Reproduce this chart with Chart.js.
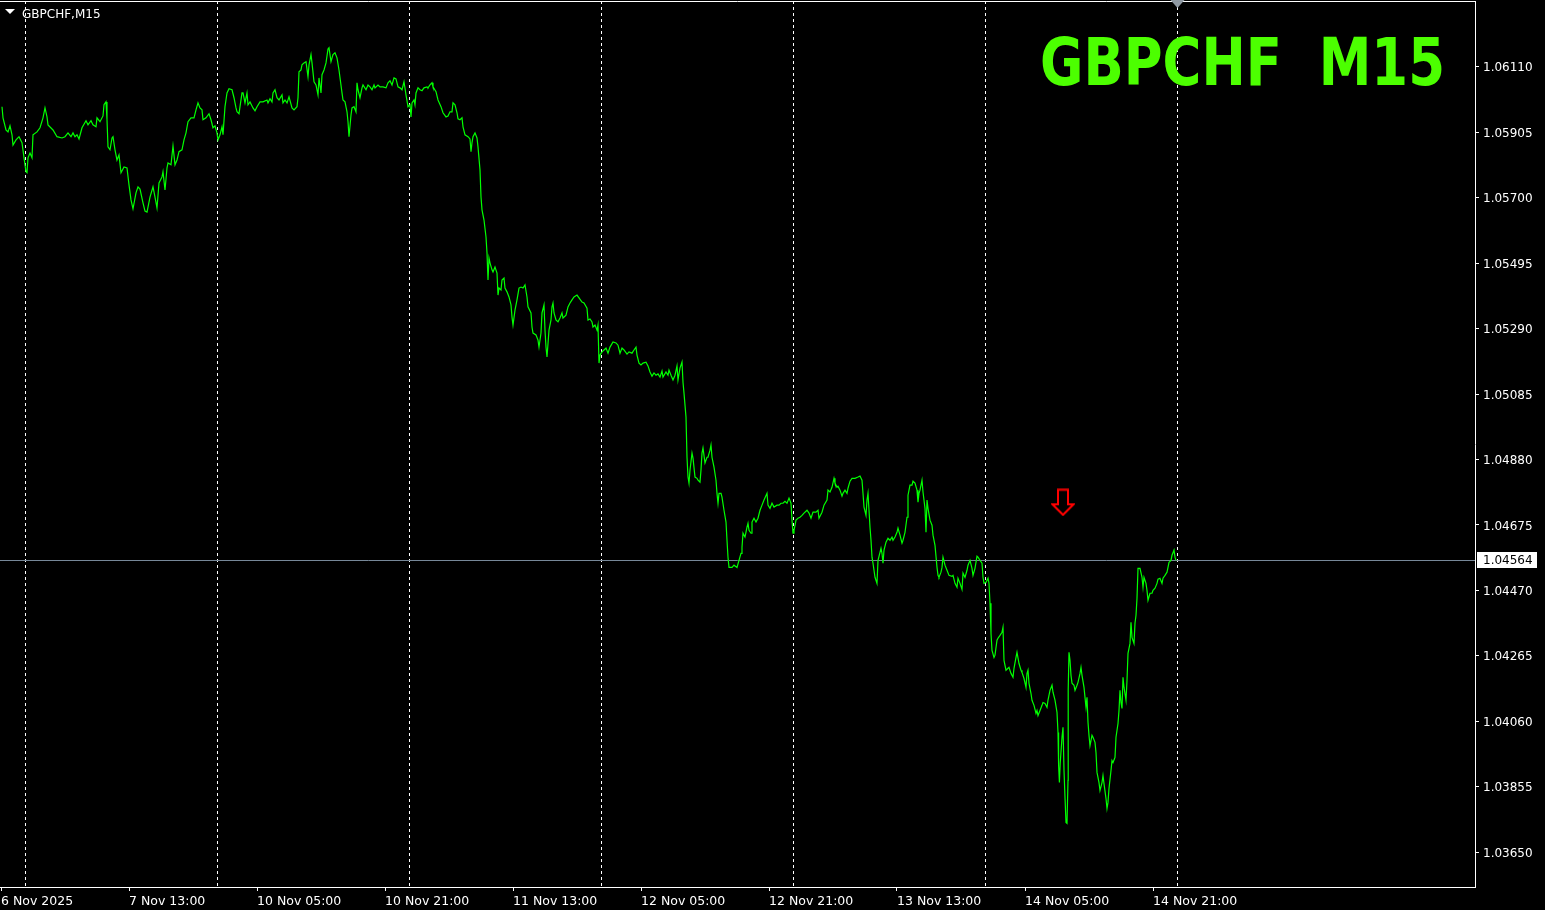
<!DOCTYPE html>
<html>
<head>
<meta charset="utf-8">
<title>GBPCHF M15</title>
<script src="https://cdn.jsdelivr.net/npm/chart.js@4.4.1/dist/chart.umd.min.js"></script>
<style>
  html, body { margin: 0; padding: 0; background: #000; overflow: hidden; }
  canvas { display: block; }
</style>
</head>
<body>
<canvas id="chart" width="1545" height="910"></canvas>
<script>
// M15 bars counted from 6 Nov 21:00 (bar 0), weekend removed
const barIndex = [
  0.5, 1, 2.5, 3.5, 4.5, 5.5, 6, 7.5, 9, 10.5, 11.5, 12.5, 13, 13.5, 14.5, 15.5, 16, 18, 19.5, 21,
  22, 23, 23.5, 26, 28, 30.5, 32, 33.5, 35, 36, 37, 38, 39, 40.5, 42.5, 43.5, 45, 46, 47.5, 48,
  49.5, 51, 51.5, 52.5, 53, 53.5, 54.5, 55.5, 56, 57, 58, 59, 60, 61.5, 63, 64, 65, 66, 67.5, 68.5,
  69.5, 71, 72, 73, 74.5, 76, 77, 78, 79, 80.5, 81, 82, 83, 83.5, 85, 86, 87, 88, 89, 90.5,
  91.5, 92.5, 93.5, 95, 96.5, 97.5, 98.5, 99.5, 100.5, 101, 102.5, 104, 105, 106, 107, 108, 108.5, 109.5, 110.5, 111,
  112, 113, 114, 115.5, 116.5, 117.5, 118, 119, 120.5, 121, 122, 123, 123.5, 124.5, 126, 127, 128, 129.5, 131, 133,
  133.5, 134.5, 135.5, 136, 137, 138, 139, 140.5, 141, 142, 143, 144, 145.5, 146.5, 148, 148.5,
  149, 150, 150.5, 151.5, 152.5, 153.5, 154, 155, 155.5, 156.5, 157.5, 158.5, 159, 160, 160.5, 161.5, 162.5, 163.5, 164, 165,
  166, 167, 168, 169, 170.5, 171, 172, 173, 173.5, 174, 175, 175.5, 176.5, 177.5, 178, 178.5, 179.5, 180.5, 181, 182.5,
  183.5, 184.5, 185.5, 186.5, 187, 188.5, 189.5, 191, 192.5, 193.5, 194.5, 195.5, 196.5, 197.5, 198.5, 199.5, 200.5, 201.5, 202.5, 203.5,
  204.5, 205, 205.5, 206.5, 207, 207.5, 208.5, 209.5, 210.5, 211.5, 213, 213.5, 214.5, 215.5, 216, 217.5, 218.5, 220, 221, 222.5,
  223.5, 224.5, 225.5, 226, 227, 228, 228.5, 229.5, 230.5, 231, 232, 233.5, 234.5, 235, 235.5, 236, 237, 238, 238.5, 239.5,
  240, 240.5, 241.5, 242.5, 243, 243.5, 244, 244.5, 245.5, 246, 247, 248, 248.5, 249, 250, 250.5, 251.5, 252, 253, 254,
  255, 255.5, 256, 257, 258, 259, 260, 261, 262, 263, 263.5, 265, 265.5, 266, 267.5, 268.5, 269, 270, 270.5, 271.5,
  272, 272.5, 273, 274, 275, 275.5, 276, 276.5, 277.5, 278.5, 279.5, 280.5, 281, 282.5, 283.5, 284.5, 285.5, 286.5, 288, 289,
  290.5, 291.5, 293, 293.5, 294.5, 295.5, 296, 297, 298, 298.5,
  299, 299.5, 300.5, 301.5, 302.5, 303.5, 304.5, 306, 307.5, 308.5, 309.5, 310.5, 311.5, 313, 314, 315.5, 316.5, 317.5, 318, 319,
  320, 321, 322.5, 323.5, 324.5, 325.5, 326.5, 327.5, 328.5, 329.5, 330.5, 331, 332.5, 333.5, 334, 335, 336, 337, 338, 338.5,
  339.5, 340.5, 341, 341.5, 342.5, 343, 343.5, 344, 344.5, 345.5, 346, 347, 348, 348.5, 349.5, 350, 350.5, 351, 352, 353,
  353.5, 354.5, 355, 355.5, 356.5, 357.5, 358, 358.5, 359, 360, 360.5, 361.5, 362.5, 363, 363.5, 364, 365.5, 366.5, 368, 369,
  370, 370.5, 371, 372, 373, 373.5, 374, 375, 375.5, 376.5, 377.5, 378.5, 379.5, 380.5, 381.5, 383, 383.5, 384.5, 385.5, 386.5,
  388, 389, 390, 391, 392, 393, 394, 395, 395.5, 396, 396.5, 397.5, 398.5, 399.5, 400.5, 401.5, 403, 404, 405, 406,
  407.5, 408.5, 409, 410.5, 411.5, 413, 413.5, 414.5, 415.5, 416.5, 417, 418, 418.5, 419.5, 420.5, 421, 422, 423, 423.5, 424.5,
  425.5, 427, 428.5, 429.5, 430.5, 431, 431.5, 432.5, 433, 433.5, 434, 434.5, 435, 435.5, 436, 436.5, 437, 438, 438.5, 439.5,
  440, 440.5, 441, 441.5, 442.5, 443.5, 444.5, 445.5, 446, 447, 448, 448.5,
  449.5, 450.5, 451, 452, 453, 453.5, 454.5, 455.5, 456, 457, 458, 458.5, 459, 459.5, 460.5, 461, 462, 462.5, 463, 463.5,
  464.5, 465.5, 466, 467, 468, 468.5, 469, 470, 470.5, 471, 472, 473, 474, 475.5, 476, 477, 478, 478.5, 479.5, 480.5,
  481, 482, 483, 483.5, 484.5, 485.5, 486, 487, 488, 488.5, 489.5, 490.5, 491, 491.5, 492.5, 493.5, 494, 494.5, 495, 495.5,
  496.5, 497, 498, 498.5, 499.5, 500.5, 501, 501.5, 502.5, 503.5, 504, 505, 506, 506.5, 507.5, 508, 509, 510, 510.5, 511.5,
  512.5, 513, 513.5, 514, 515, 515.5, 516.5, 517.5, 518, 518.5, 519.5, 520.5, 521, 522, 523, 523.5, 524.5, 525.5, 526, 527,
  528, 528.5, 528.8, 529.2, 529.6, 530.5, 531, 531.5, 532, 532.5, 533, 533.5, 533.6, 534, 534.5, 535, 535.5, 536.5, 537, 538,
  538.5, 539.5, 540, 540.5, 541.5, 542, 542.5, 543, 543.5, 544, 544.5, 545.5, 546, 547, 547.5, 548, 549, 549.5, 550.5, 551,
  551.5, 552.5, 553, 553.5, 554, 555, 555.5, 556, 557, 557.5, 558.5, 559, 559.5, 560, 560.5, 561, 561.5, 562.5, 563, 563.5,
  564.5, 565, 565.5, 566.5, 567, 567.5, 568, 568.5, 569.5, 570.5, 571, 571.5, 572.5, 573, 573.5, 574.5, 575.5, 576, 577, 578,
  578.5, 579.5, 580.5, 581, 582, 583, 583.5, 584, 585, 585.5, 586.5, 587, 587.5
];

const closePrice = [
  1.05985, 1.05950, 1.05912, 1.05906, 1.05925, 1.05897, 1.05865, 1.05881, 1.05891, 1.05872, 1.05825, 1.05781, 1.05778, 1.05825, 1.05840, 1.05825, 1.05897, 1.05906, 1.05919, 1.05950,
  1.05981, 1.05953, 1.05928, 1.05912, 1.05891, 1.05887, 1.05891, 1.05903, 1.05891, 1.05903, 1.05891, 1.05897, 1.05884, 1.05919, 1.05941, 1.05928, 1.05941, 1.05928, 1.05922, 1.05950,
  1.05938, 1.05956, 1.05991, 1.06000, 1.05944, 1.05859, 1.05850, 1.05887, 1.05891, 1.05850, 1.05818, 1.05834, 1.05778, 1.05796, 1.05793, 1.05740, 1.05693, 1.05665, 1.05715, 1.05734,
  1.05727, 1.05684, 1.05658, 1.05655, 1.05702, 1.05734, 1.05702, 1.05668, 1.05746, 1.05765, 1.05781, 1.05724, 1.05793, 1.05809, 1.05803, 1.05862, 1.05803, 1.05818, 1.05844, 1.05850,
  1.05881, 1.05903, 1.05938, 1.05950, 1.05950, 1.05975, 1.05997, 1.05981, 1.05975, 1.05944, 1.05950, 1.05963, 1.05944, 1.05919, 1.05925, 1.05903, 1.05881, 1.05897, 1.05922, 1.05897,
  1.05985, 1.06028, 1.06041, 1.06038, 1.06013, 1.05981, 1.05969, 1.05963, 1.06028, 1.06028, 1.05997, 1.06028, 1.05991, 1.06000, 1.05981, 1.05972, 1.05985, 1.06000, 1.06000, 1.06006,
  1.05997, 1.06010, 1.06000, 1.06028, 1.06038, 1.06013, 1.06006, 1.06022, 1.05997, 1.06006, 1.05997, 1.06016, 1.05981, 1.05975, 1.05985, 1.06013,
  1.06094, 1.06100, 1.06116, 1.06122, 1.06126, 1.06079, 1.06116, 1.06148, 1.06122, 1.06063, 1.06053, 1.06022, 1.06075, 1.06028, 1.06085, 1.06100, 1.06122, 1.06166, 1.06170, 1.06126,
  1.06148, 1.06154, 1.06138, 1.06100, 1.06028, 1.06006, 1.06000, 1.05969, 1.05938, 1.05891, 1.05959, 1.05981, 1.05985, 1.05969, 1.06060, 1.06038, 1.06013, 1.06044, 1.06053, 1.06038,
  1.06053, 1.06047, 1.06038, 1.06053, 1.06044, 1.06053, 1.06047, 1.06047, 1.06044, 1.06060, 1.06066, 1.06053, 1.06075, 1.06072, 1.06047, 1.06044, 1.06038, 1.06063, 1.06022, 1.05985,
  1.05991, 1.05953, 1.05997, 1.06006, 1.05991, 1.06028, 1.06044, 1.06038, 1.06035, 1.06044, 1.06047, 1.06044, 1.06053, 1.06060, 1.06047, 1.06032, 1.06006, 1.05985, 1.05966, 1.05953,
  1.05956, 1.05969, 1.05969, 1.05997, 1.05991, 1.05966, 1.05947, 1.05944, 1.05950, 1.05922, 1.05897, 1.05891, 1.05884, 1.05844, 1.05872, 1.05891, 1.05903, 1.05887, 1.05859, 1.05787,
  1.05702, 1.05662, 1.05630, 1.05577, 1.05527, 1.05442, 1.05511, 1.05496, 1.05474, 1.05467, 1.05483, 1.05464, 1.05395, 1.05417, 1.05411, 1.05442, 1.05448, 1.05417, 1.05405, 1.05389,
  1.05364, 1.05326, 1.05301, 1.05348, 1.05380, 1.05417, 1.05420, 1.05417, 1.05427, 1.05389, 1.05358, 1.05339, 1.05295, 1.05276, 1.05270, 1.05254, 1.05232, 1.05276, 1.05339, 1.05364,
  1.05285, 1.05232, 1.05201, 1.05285, 1.05317, 1.05358, 1.05370, 1.05339, 1.05317, 1.05311, 1.05323, 1.05339, 1.05323, 1.05332, 1.05358, 1.05370, 1.05380, 1.05389, 1.05395, 1.05386,
  1.05373, 1.05370, 1.05354, 1.05317, 1.05320, 1.05311, 1.05295, 1.05301, 1.05285, 1.05301,
  1.05182, 1.05207, 1.05217, 1.05223, 1.05229, 1.05213, 1.05232, 1.05248, 1.05245, 1.05238, 1.05213, 1.05229, 1.05223, 1.05210, 1.05217, 1.05213, 1.05223, 1.05232, 1.05207, 1.05182,
  1.05176, 1.05182, 1.05185, 1.05173, 1.05154, 1.05141, 1.05151, 1.05144, 1.05148, 1.05138, 1.05157, 1.05138, 1.05154, 1.05144, 1.05160, 1.05144, 1.05129, 1.05144, 1.05173, 1.05129,
  1.05166, 1.05185, 1.05122, 1.05088, 1.05013, 1.04887, 1.04825, 1.04806, 1.04847, 1.04900, 1.04884, 1.04825, 1.04821, 1.04815, 1.04809, 1.04847, 1.04900, 1.04916, 1.04869, 1.04887,
  1.04887, 1.04909, 1.04925, 1.04887, 1.04856, 1.04815, 1.04774, 1.04743, 1.04774, 1.04774, 1.04762, 1.04721, 1.04684, 1.04627, 1.04574, 1.04542, 1.04542, 1.04549, 1.04542, 1.04564,
  1.04586, 1.04605, 1.04649, 1.04637, 1.04668, 1.04680, 1.04658, 1.04649, 1.04684, 1.04696, 1.04684, 1.04696, 1.04721, 1.04737, 1.04753, 1.04774, 1.04737, 1.04727, 1.04743, 1.04731,
  1.04737, 1.04737, 1.04743, 1.04743, 1.04749, 1.04743, 1.04759, 1.04743, 1.04690, 1.04649, 1.04658, 1.04690, 1.04696, 1.04699, 1.04705, 1.04712, 1.04721, 1.04712, 1.04696, 1.04715,
  1.04715, 1.04721, 1.04696, 1.04715, 1.04737, 1.04753, 1.04784, 1.04778, 1.04793, 1.04821, 1.04806, 1.04793, 1.04796, 1.04784, 1.04765, 1.04774, 1.04784, 1.04774, 1.04790, 1.04812,
  1.04821, 1.04821, 1.04825, 1.04828, 1.04815, 1.04774, 1.04731, 1.04705, 1.04753, 1.04774, 1.04721, 1.04668, 1.04627, 1.04574, 1.04555, 1.04533, 1.04511, 1.04492, 1.04564, 1.04589,
  1.04602, 1.04586, 1.04555, 1.04596, 1.04621, 1.04633, 1.04627, 1.04637, 1.04627, 1.04637, 1.04652, 1.04665,
  1.04643, 1.04618, 1.04627, 1.04652, 1.04699, 1.04768, 1.04800, 1.04800, 1.04812, 1.04806, 1.04784, 1.04746, 1.04774, 1.04784, 1.04815, 1.04778, 1.04727, 1.04652, 1.04753, 1.04727,
  1.04690, 1.04674, 1.04643, 1.04611, 1.04542, 1.04517, 1.04511, 1.04527, 1.04542, 1.04574, 1.04549, 1.04533, 1.04517, 1.04514, 1.04517, 1.04492, 1.04480, 1.04508, 1.04492, 1.04473,
  1.04524, 1.04511, 1.04533, 1.04549, 1.04564, 1.04539, 1.04517, 1.04539, 1.04577, 1.04574, 1.04564, 1.04555, 1.04511, 1.04492, 1.04495, 1.04508, 1.04492, 1.04430, 1.04336, 1.04282,
  1.04260, 1.04267, 1.04314, 1.04320, 1.04329, 1.04339, 1.04354, 1.04251, 1.04220, 1.04226, 1.04229, 1.04210, 1.04198, 1.04226, 1.04260, 1.04276, 1.04241, 1.04220, 1.04213, 1.04194,
  1.04166, 1.04210, 1.04220, 1.04179, 1.04147, 1.04126, 1.04110, 1.04085, 1.04094, 1.04078, 1.04094, 1.04110, 1.04119, 1.04116, 1.04104, 1.04126, 1.04157, 1.04173, 1.04151, 1.04126,
  1.04088, 1.04025, 1.03922, 1.03868, 1.03928, 1.04010, 1.04041, 1.03906, 1.03821, 1.03743, 1.03740, 1.03875, 1.04157, 1.04276, 1.04251, 1.04204, 1.04179, 1.04173, 1.04157, 1.04173,
  1.04182, 1.04210, 1.04229, 1.04204, 1.04166, 1.04135, 1.04104, 1.04135, 1.04057, 1.04016, 1.03984, 1.04016, 1.04010, 1.03994, 1.03962, 1.03900, 1.03868, 1.03843, 1.03868, 1.03890,
  1.03865, 1.03818, 1.03787, 1.03806, 1.03850, 1.03906, 1.03937, 1.03931, 1.03947, 1.04010, 1.04053, 1.04094, 1.04157, 1.04119, 1.04100, 1.04198, 1.04166, 1.04126, 1.04188, 1.04273,
  1.04304, 1.04370, 1.04323, 1.04304, 1.04367, 1.04392, 1.04445, 1.04539, 1.04539, 1.04511, 1.04480, 1.04511, 1.04492, 1.04470, 1.04439, 1.04461, 1.04461, 1.04470, 1.04477, 1.04492,
  1.04505, 1.04508, 1.04492, 1.04508, 1.04517, 1.04527, 1.04542, 1.04558, 1.04564, 1.04580, 1.04596, 1.04574, 1.04564
];

const priceTicks = [1.03650, 1.03855, 1.04060, 1.04265, 1.04470, 1.04675, 1.04880, 1.05085, 1.05290, 1.05495, 1.05700, 1.05905, 1.06110];
const labelBars = [0, 64, 128, 192, 256, 320, 384, 448, 512, 576];
const xTickLabels = ['6 Nov 2025', '7 Nov 13:00', '10 Nov 05:00', '10 Nov 21:00', '11 Nov 13:00',
                     '12 Nov 05:00', '12 Nov 21:00', '13 Nov 13:00', '14 Nov 05:00', '14 Nov 21:00'];
const daySeparators = [12, 108, 204, 300, 396, 492, 588];
const shiftBar = 588;
const lastPrice = 1.04564;
const arrowBar = [531];
const arrowPrice = [1.04746];

const symbolTitle = 'GBPCHF  M15';
const windowTitle = 'GBPCHF,M15';

const FONT = 'DejaVu Sans';

// hollow down arrow for the signal marker
function makeArrow() {
  const c = document.createElement('canvas');
  c.width = 24; c.height = 28;
  const g = c.getContext('2d');
  g.strokeStyle = '#ff0000';
  g.lineWidth = 2;
  g.lineJoin = 'miter';
  g.beginPath();
  g.moveTo(7, 1.5);
  g.lineTo(17, 1.5);
  g.lineTo(17, 16);
  g.lineTo(22.5, 16);
  g.lineTo(12, 26.5);
  g.lineTo(1.5, 16);
  g.lineTo(7, 16);
  g.closePath();
  g.stroke();
  return c;
}

// keep the plot flush with the window edges like the terminal does
function noPad(s) {
  s.paddingLeft = 0; s.paddingRight = 0; s.paddingTop = 0; s.paddingBottom = 0;
}

const overlay = {
  id: 'overlay',
  beforeDatasetsDraw(chart) {
    const { ctx, chartArea: a, scales: { x, y } } = chart;
    ctx.save();
    // day separators
    ctx.strokeStyle = '#ffffff';
    ctx.lineWidth = 1;
    ctx.setLineDash([3, 3]);
    daySeparators.forEach(b => {
      const px = Math.round(x.getPixelForValue(b)) + 0.5;
      ctx.beginPath();
      ctx.moveTo(px, a.top);
      ctx.lineTo(px, a.bottom);
      ctx.stroke();
    });
    ctx.setLineDash([]);
    // bid line
    const py = Math.round(y.getPixelForValue(lastPrice)) + 0.5;
    ctx.strokeStyle = '#778899';
    ctx.beginPath();
    ctx.moveTo(a.left, py);
    ctx.lineTo(a.right, py);
    ctx.stroke();
    ctx.restore();
  },
  afterDraw(chart) {
    const { ctx, chartArea: a, scales: { x, y } } = chart;
    ctx.save();
    // top frame line
    ctx.strokeStyle = '#ffffff';
    ctx.lineWidth = 1;
    ctx.beginPath();
    ctx.moveTo(a.left, a.top + 0.5);
    ctx.lineTo(a.right, a.top + 0.5);
    ctx.stroke();

    // shift marker
    const sx = Math.round(x.getPixelForValue(shiftBar)) + 0.5;
    ctx.fillStyle = '#8f99a3';
    ctx.beginPath();
    ctx.moveTo(sx - 7, 0);
    ctx.lineTo(sx + 7, 0);
    ctx.lineTo(sx, 8);
    ctx.closePath();
    ctx.fill();

    // window caption
    ctx.fillStyle = '#ffffff';
    ctx.beginPath();
    ctx.moveTo(5, 9);
    ctx.lineTo(15, 9);
    ctx.lineTo(10, 14);
    ctx.closePath();
    ctx.fill();
    ctx.font = '12px "' + FONT + '"';
    ctx.textAlign = 'left';
    ctx.textBaseline = 'alphabetic';
    ctx.fillText(windowTitle, 22, 18);

    // big symbol title, squeezed to the width seen in the terminal
    ctx.font = 'bold 66px "' + FONT + '"';
    const w = ctx.measureText(symbolTitle).width;
    const sc = 405 / w;
    ctx.translate(1445, 85);
    ctx.scale(sc, 1);
    ctx.fillStyle = '#4cff00';
    ctx.textAlign = 'right';
    ctx.fillText(symbolTitle, 0, 0);
    ctx.setTransform(1, 0, 0, 1, 0, 0);

    // last price box on the axis
    const py = Math.round(y.getPixelForValue(lastPrice));
    ctx.fillStyle = '#ffffff';
    ctx.fillRect(a.right + 2, py - 8, 60, 16);
    ctx.fillStyle = '#000000';
    ctx.font = '12px "' + FONT + '"';
    ctx.textAlign = 'left';
    ctx.textBaseline = 'middle';
    ctx.fillText(lastPrice.toFixed(5), a.right + 8, py + 1);
    ctx.restore();
  }
};

const ctx = document.getElementById('chart').getContext('2d');
const chart = new Chart(ctx, {
  data: {
    datasets: [{
      type: 'line',
      data: barIndex.map((b, i) => ({ x: b, y: closePrice[i] })),
      borderColor: '#00ff00',
      borderWidth: 1.2,
      pointRadius: 0,
      tension: 0,
      fill: false
    }, {
      type: 'scatter',
      data: arrowBar.map((b, i) => ({ x: b, y: arrowPrice[i] })),
      pointStyle: makeArrow(),
      pointRadius: 12
    }]
  },
  options: {
    responsive: false,
    animation: false,
    devicePixelRatio: 1,
    layout: { autoPadding: false, padding: { top: 1, left: 0, right: 0, bottom: 0 } },
    plugins: { legend: { display: false }, tooltip: { enabled: false } },
    scales: {
      x: {
        type: 'linear',
        position: 'bottom',
        min: -0.5,
        max: 737,
        afterBuildTicks: s => { s.ticks = labelBars.map(v => ({ value: v })); },
        afterFit: s => { s.height = 23; noPad(s); },
        ticks: {
          color: '#ffffff',
          font: { family: FONT, size: 12.5 },
          align: 'start',
          maxRotation: 0,
          autoSkip: false,
          padding: 3,
          callback: v => xTickLabels[labelBars.indexOf(v)]
        },
        grid: { drawOnChartArea: false, color: '#ffffff', tickLength: 4 },
        border: { color: '#ffffff' }
      },
      y: {
        type: 'linear',
        position: 'right',
        min: 1.03541,
        max: 1.06316,
        afterBuildTicks: s => { s.ticks = priceTicks.map(v => ({ value: v })); },
        afterFit: s => { s.width = 70; noPad(s); },
        ticks: {
          color: '#ffffff',
          font: { family: FONT, size: 12 },
          padding: 4,
          labelOffset: 1.5,
          callback: v => v.toFixed(5)
        },
        grid: { drawOnChartArea: false, color: '#ffffff', tickLength: 4 },
        border: { color: '#ffffff' }
      }
    }
  },
  plugins: [overlay]
});
</script>
</body>
</html>
